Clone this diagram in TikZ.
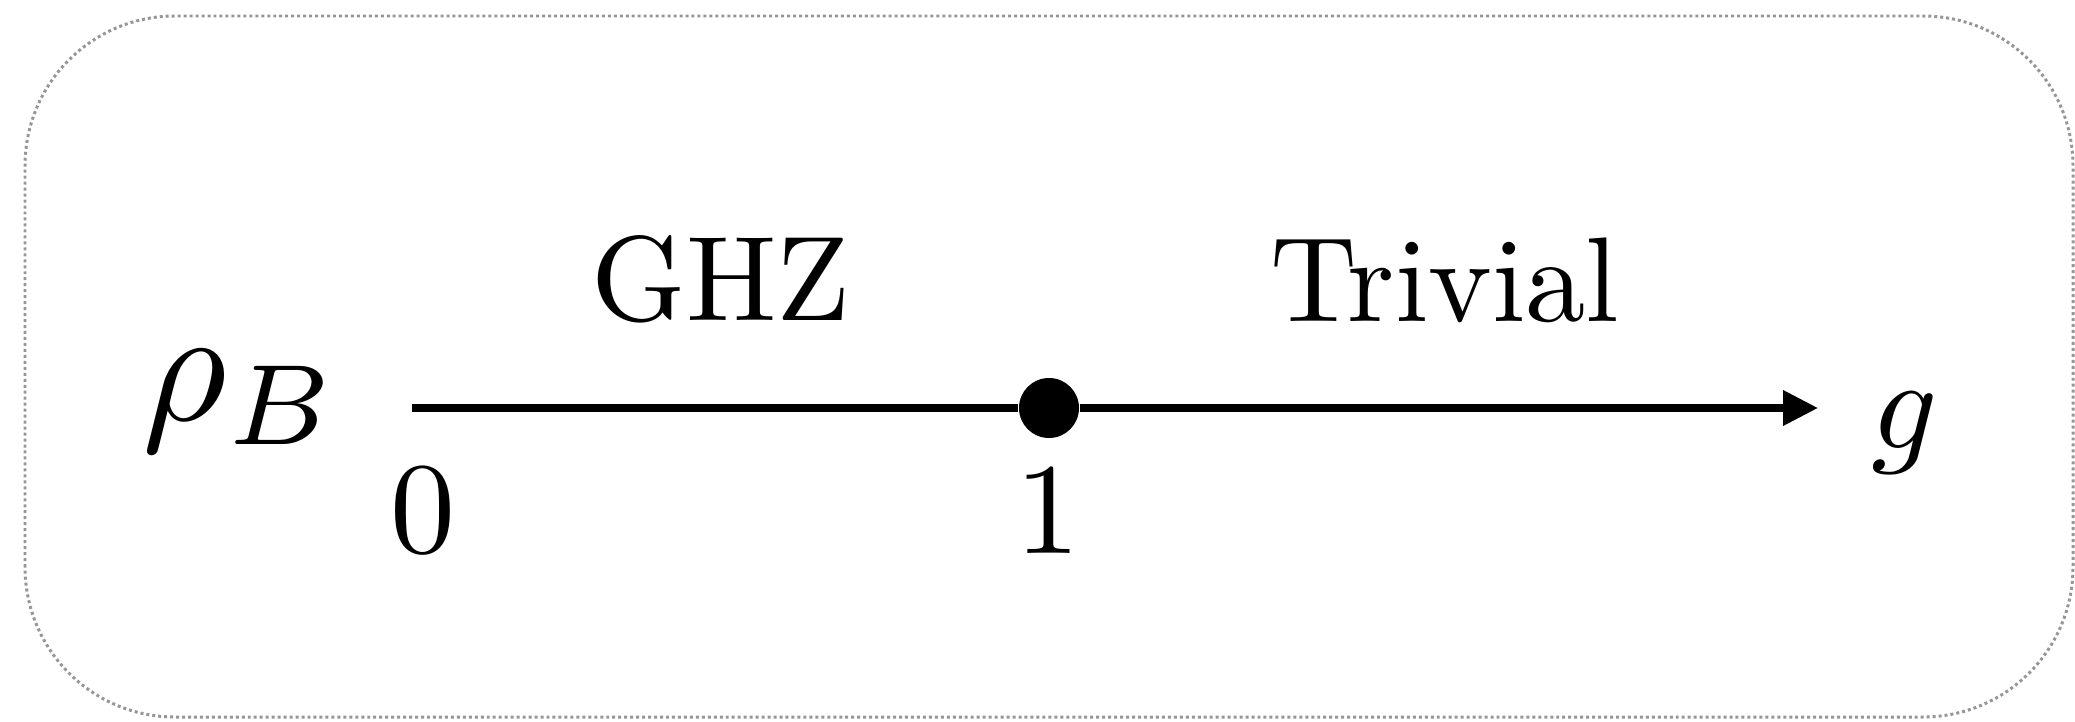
\documentclass[tikz,border=0pt]{standalone}
\usepackage{amsmath}
\usepackage{amssymb}
\usetikzlibrary{arrows.meta}

\definecolor{framegray}{RGB}{150,150,150}
\tikzset{
    phaselabel/.style={anchor=base, inner sep=0pt, scale=3.43},
    ticklabel/.style={anchor=base, inner sep=0pt, scale=3.7},
}

\begin{document}
\begin{tikzpicture}
        \useasboundingbox (0, 0) rectangle (20.75, 7.21);
        \draw[framegray, line width=0.85pt, dash pattern=on 0.85pt off 0.85pt,
            rounded corners=1.5cm] (0.25, 0.04) rectangle (20.73, 7.05);
        % phase axis
        \coordinate (axisstart) at (4.12, 3.13);
        \coordinate (axisend) at (18.18, 3.13);
        \node[circle, fill=black, inner sep=0pt, minimum size=0.6cm] (crit) at (10.49, 3.13) {};
        \draw[line width=2pt, -{Triangle[length=0.35cm, width=0.34cm]}]
            (axisstart) -- (crit) -- (axisend);
        \node[ticklabel] (zero) at (4.23, 1.69) {$ 0 $};
        \node[ticklabel] (one) at (10.48, 1.68) {$ 1 $};
        \node[ticklabel, scale=4.65/3.7] (rho) at (2.41, 3.01) {$ \rho_B $};
        \node[ticklabel] (gval) at (19.05, 2.73) {$ g $};
        \node[phaselabel] (ghz) at (7.21, 4.01) {GHZ};
        \node[phaselabel] (triv) at (14.45, 4.00) {Trivial};
    \end{tikzpicture}
\end{document}
